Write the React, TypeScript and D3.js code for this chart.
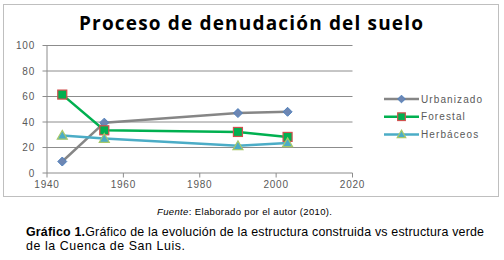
import React from "react";
import * as d3 from "d3";

const years = [1944, 1955, 1990, 2003];
const urbanizado = [9, 39.5, 47, 48];
const forestal = [61.5, 33.5, 32.2, 28.3];
const herbaceos = [29.5, 27, 21.3, 23.6];
const xTicks = [1940, 1960, 1980, 2000, 2020];
const yTicks = [0, 20, 40, 60, 80, 100];
const seriesNames = ["Urbanizado", "Forestal", "Herbáceos"];

const W = 504, H = 260;

export default function App() {
  const x = d3.scaleLinear().domain([1940, 2020]).range([47, 352.5]);
  const y = d3.scaleLinear().domain([0, 100]).range([173, 45.5]);
  const line = d3.line<number>().x((_, i) => x(years[i])).y((d) => y(d));

  const series = [
    { name: seriesNames[0], data: urbanizado, color: "#868686", fill: "#6d86b3", stroke: "#4f81bd", shape: "diamond" },
    { name: seriesNames[1], data: forestal, color: "#00b050", fill: "#00b050", stroke: "#d0504d", shape: "square" },
    { name: seriesNames[2], data: herbaceos, color: "#4bacc6", fill: "#4bacc6", stroke: "#a6c86a", shape: "triangle" },
  ];

  const marker = (shape: string, cx: number, cy: number, fill: string, stroke: string, s = 1) => {
    if (shape === "diamond") {
      const r = 4.5 * s;
      return <path d={`M${cx},${cy - r}L${cx + r},${cy}L${cx},${cy + r}L${cx - r},${cy}Z`} fill={fill} stroke={stroke} strokeWidth={1} />;
    }
    if (shape === "square") {
      const r = 4.5 * s;
      return <rect x={cx - r} y={cy - r} width={2 * r} height={2 * r} fill={fill} stroke={stroke} strokeWidth={1.2} />;
    }
    const r = 5 * s;
    return <path d={`M${cx},${cy - r}L${cx + r},${cy + r * 0.75}L${cx - r},${cy + r * 0.75}Z`} fill={fill} stroke={stroke} strokeWidth={1.2} />;
  };

  const font = "'Liberation Sans', Arial, sans-serif";
  const labelColor = "#595959";

  return (
    <svg width={W} height={H} style={{ position: "absolute", left: 0, top: 0, background: "#fff" }} fontFamily={font}>
      <rect x={3.5} y={4.5} width={495} height={192} fill="#fff" stroke="#bfbfbf" strokeWidth={1} />
      <text x={79} y={29.5} fontSize={19} fontWeight="bold" fill="#000"
        fontFamily="'Open Sans', sans-serif" textLength={344} lengthAdjust="spacing">
        Proceso de denudación del suelo
      </text>
      {yTicks.map((t) => (
        <g key={"y" + t}>
          {t > 0 && <line x1={x(1940)} x2={x(2020)} y1={y(t)} y2={y(t)} stroke="#8c8c8c" strokeWidth={1} />}
          <line x1={42.5} x2={47} y1={y(t)} y2={y(t)} stroke="#8c8c8c" />
          <text x={35} y={y(t) + 3.5} textAnchor="end" fontSize={10} fill={labelColor} letterSpacing={0.8}>{t}</text>
        </g>
      ))}
      <line x1={x(1940)} x2={x(1940)} y1={y(100)} y2={y(0)} stroke="#8c8c8c" />
      <line x1={x(1940)} x2={x(2020)} y1={y(0)} y2={y(0)} stroke="#8c8c8c" />
      {xTicks.map((t) => (
        <g key={"x" + t}>
          <line x1={x(t)} x2={x(t)} y1={y(0)} y2={y(0) + 4.5} stroke="#8c8c8c" />
          <text x={x(t)} y={188} textAnchor="middle" fontSize={10} fill={labelColor} letterSpacing={0.8}>{t}</text>
        </g>
      ))}
      {series.map((s) => (
        <g key={s.name}>
          <path d={line(s.data) || ""} fill="none" stroke={s.color} strokeWidth={2.5} />
          {s.data.map((v, i) => (
            <g key={i}>{marker(s.shape, x(years[i]), y(v), s.fill, s.stroke)}</g>
          ))}
        </g>
      ))}
      {series.map((s, i) => {
        const ly = 99 + i * 17.7;
        return (
          <g key={"l" + s.name}>
            <line x1={384} x2={419} y1={ly} y2={ly} stroke={s.color} strokeWidth={2.5} />
            {marker(s.shape, 401.5, ly, s.fill, s.stroke, 0.85)}
            <text x={421} y={ly + 3.5} fontSize={10} fill={labelColor} letterSpacing={1.1}>{s.name}</text>
          </g>
        );
      })}
      <text x={157} y={215} fontSize={9.5} fill="#000" textLength={175} lengthAdjust="spacing">
        <tspan fontStyle="italic">Fuente</tspan>: Elaborado por el autor (2010).
      </text>
      <text x={26} y={235.5} fontSize={12.4} fill="#000" textLength={458} lengthAdjust="spacing">
        <tspan fontWeight="bold">Gráfico 1.</tspan>Gráfico de la evolución de la estructura construida vs estructura verde
      </text>
      <text x={26} y={249.5} fontSize={12.4} fill="#000" textLength={159} lengthAdjust="spacing">de la Cuenca de San Luis.</text>
    </svg>
  );
}
